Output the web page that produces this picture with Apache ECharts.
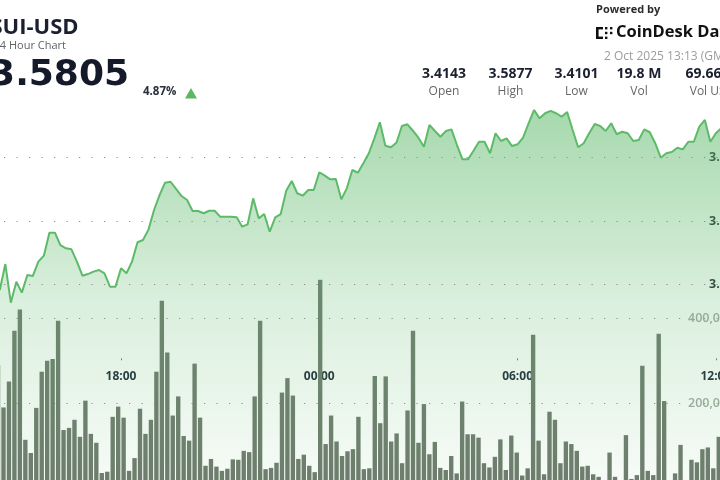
<!DOCTYPE html>
<html><head><meta charset="utf-8">
<script src="https://cdn.jsdelivr.net/npm/echarts@6/dist/echarts.min.js"></script>
<style>html,body{margin:0;padding:0;background:#fff}#c{width:720px;height:480px}</style>
</head><body><div id="c"></div>
<script>
// ---- data ----
const priceValues = [
 3.4455,3.4660,3.4355,3.4520,3.4434,3.4573,3.4566,3.4679,3.4726,3.4908,3.4908,3.4810,3.4784,3.4776,3.4679,3.4568,3.4581,3.4600,3.4613,3.4587,3.4481,3.4481,
 3.4626,3.4587,3.4679,3.4832,3.4850,3.4934,3.5087,3.5205,3.5303,3.5310,3.5253,3.5197,3.5166,3.5079,3.5079,3.5061,3.5081,3.5081,3.5034,3.5034,3.5034,3.5029,
 3.4955,3.4974,3.5179,3.5021,3.5055,3.4915,3.5029,3.5055,3.5239,3.5316,3.5219,3.5200,3.5245,3.5245,3.5385,3.5358,3.5329,3.5332,3.5171,3.5258,3.5403,3.5382,
 3.5456,3.5535,3.5653,3.5780,3.5595,3.5582,3.5618,3.5750,3.5764,3.5713,3.5658,3.5587,3.5758,3.5711,3.5666,3.5711,3.5724,3.5600,3.5487,3.5487,3.5555,3.5626,
 3.5626,3.5535,3.5693,3.5632,3.5653,3.5592,3.5606,3.5658,3.5772,3.5877,3.5811,3.5851,3.5870,3.5851,3.5824,3.5861,3.5719,3.5582,3.5614,3.5693,3.5766,3.5750,
 3.5711,3.5772,3.5685,3.5705,3.5693,3.5632,3.5640,3.5724,3.5701,3.5614,3.5500,3.5535,3.5545,3.5579,3.5566,3.5626,3.5626,3.5745,3.5798,3.5626,3.5693,3.5735
];
const volumeValues = [
 290000,190000,251000,370000,420000,114000,83000,189000,274000,300000,304000,394000,137000,142000,161000,121000,206000,128000,107000,36000,39000,168000,192000,
 166000,41000,71000,187000,128000,161000,274000,441000,319000,171000,216000,123000,112000,293000,166000,53000,69000,51000,41000,46000,68000,67000,
 88000,85000,216000,394000,45000,48000,60000,225000,259000,218000,69000,79000,53000,38000,490000,104000,171000,110000,76000,87000,92000,168000,45000,47000,
 264000,153000,263000,110000,129000,59000,183000,370000,107000,198000,80000,109000,48000,43000,76000,35000,204000,127000,127000,119000,
 59000,49000,74000,115000,43000,124000,84000,30000,47000,361000,112000,33000,180000,161000,59000,110000,104000,88000,51000,53000,33000,27000,17000,84000,
 27000,19000,125000,22000,31000,288000,41000,31000,363000,205000,15000,35000,102000,15000,67000,61000,92000,96000,47000,121000
];
const priceGridValues = [3.45, 3.50, 3.55];
const timeTickLabels = ['18:00', '00:00', '06:00', '12:00'];
const statValues = ['3.4143', '3.5877', '3.4101', '19.8 M', '69.66 M'];
const statLabels = ['Open', 'High', 'Low', 'Vol', 'Vol USD'];
const lastPrice = '3.5805';
const changePct = '4.87%';

function hhmm(m) { m = ((m % 1440) + 1440) % 1440; return String(Math.floor(m / 60)).padStart(2, '0') + ':' + String(m % 60).padStart(2, '0'); }
const priceTimes = priceValues.map((_, i) => hhmm(14 * 60 + 20 + i * 10));
const volumeTimes = volumeValues.map((_, i) => hhmm(14 * 60 + 10 + i * 10));

// ---- layout ----
const P_STEP = 5.508, V_STEP = 5.46;
const priceLeft = -0.18, priceWidth = (priceValues.length - 1) * P_STEP;
const volLeft = -4.69, volWidth = volumeValues.length * V_STEP;
const dotted = { type: [1.2, 11.3], color: '#8e8e8e', width: 1.2 };
const navy = '#1b2030';
const isTime = (i, v) => timeTickLabels.includes(v);

const chart = echarts.init(document.getElementById('c'), null, { renderer: 'canvas' });

const graphic = [
  { type: 'text', x: -9.5, y: 28, style: { text: 'SUI-USD', font: 'bold 22px "Open Sans"', fill: navy, textVerticalAlign: 'middle' } },
  { type: 'text', x: -6.5, y: 46, style: { text: '24 Hour Chart', font: '11px "Open Sans"', fill: '#5f6368', textVerticalAlign: 'middle' } },
  { type: 'text', x: 129, y: 75.5, style: { text: lastPrice, font: 'bold 36px "DejaVu Sans"', fill: '#141a2a', textAlign: 'right', textVerticalAlign: 'middle' } },
  { type: 'text', x: 143, y: 92, style: { text: changePct, font: 'bold 11.5px "Open Sans"', fill: '#2a2f3d', textVerticalAlign: 'middle' } },
  { type: 'polygon', shape: { points: [[185, 98.5], [197, 98.5], [191, 88]] }, style: { fill: '#5cb860' } },
  { type: 'text', x: 596, y: 10, style: { text: 'Powered by', font: 'bold 11px "Open Sans"', fill: '#2b2b2b', textVerticalAlign: 'middle' } },
  { type: 'text', x: 616, y: 32.5, style: { text: 'CoinDesk Data', font: 'bold 16.5px "Open Sans"', fill: '#111', textVerticalAlign: 'middle' } },
  { type: 'text', x: 604, y: 56.5, style: { text: '2 Oct 2025 13:13 (GMT)', font: '12px "Open Sans"', fill: '#9c9c9c', textVerticalAlign: 'middle' } },
  // logo mark
  { type: 'rect', shape: { x: 596, y: 27, width: 2.6, height: 12 }, style: { fill: '#111' } },
  { type: 'rect', shape: { x: 596, y: 27, width: 7, height: 2.4 }, style: { fill: '#111' } },
  { type: 'rect', shape: { x: 596, y: 36.6, width: 7, height: 2.4 }, style: { fill: '#111' } },
  { type: 'rect', shape: { x: 605, y: 27, width: 2.4, height: 2.4 }, style: { fill: '#111' } },
  { type: 'rect', shape: { x: 610, y: 27, width: 2.4, height: 2.4 }, style: { fill: '#111' } },
  { type: 'rect', shape: { x: 605, y: 31.8, width: 2.4, height: 2.4 }, style: { fill: '#111' } },
  { type: 'rect', shape: { x: 610, y: 31.8, width: 2.4, height: 2.4 }, style: { fill: '#111' } },
  { type: 'rect', shape: { x: 605, y: 36.6, width: 2.4, height: 2.4 }, style: { fill: '#111' } }
];
const statX = [444, 510.5, 576.5, 639, 712];
statValues.forEach((v, i) => {
  graphic.push({ type: 'text', x: statX[i], y: 74.5, style: { text: v, font: 'bold 14px "Open Sans"', fill: navy, textAlign: 'center', textVerticalAlign: 'middle' } });
  graphic.push({ type: 'text', x: statX[i], y: 91.5, style: { text: statLabels[i], font: '12px "Open Sans"', fill: '#666', textAlign: 'center', textVerticalAlign: 'middle' } });
});

chart.setOption({
  animation: false,
  backgroundColor: '#fff',
  grid: [
    { left: priceLeft, width: priceWidth, top: 94.4, height: 443.1, outerBoundsMode: 'none', containLabel: false },
    { left: volLeft, width: volWidth, top: 233, height: 255.3, outerBoundsMode: 'none', containLabel: false },
    { left: priceLeft, width: priceWidth, top: 300, height: 58.3, outerBoundsMode: 'none', containLabel: false }
  ],
  xAxis: [
    { type: 'category', gridIndex: 0, data: priceTimes, boundaryGap: false, show: false },
    { type: 'category', gridIndex: 1, data: volumeTimes, boundaryGap: true, show: false },
    { type: 'category', gridIndex: 2, data: priceTimes, boundaryGap: false,
      axisLine: { show: false },
      axisTick: { show: true, interval: isTime, length: 2, lineStyle: { color: '#777', width: 1 } },
      axisLabel: { interval: isTime, margin: 12, fontFamily: 'Open Sans', fontWeight: 'bold', fontSize: 12, color: '#1e2638' },
      splitLine: { show: false } }
  ],
  yAxis: [
    { type: 'value', gridIndex: 0, position: 'right', min: 3.25, max: 3.60, interval: 0.05,
      axisLine: { show: false }, axisTick: { show: false }, splitLine: { show: false },
      axisLabel: { inside: true, align: 'left', margin: 12.3, fontFamily: 'Open Sans', fontWeight: 'bold', fontSize: 12.5, color: '#1e2638',
        formatter: v => (v > 3.449 && v < 3.551) ? v.toFixed(4) : '' } },
    { type: 'value', gridIndex: 1, position: 'right', min: 0, max: 600000, interval: 200000,
      axisLine: { show: false }, axisTick: { show: false },
      splitLine: { show: true, showMinLine: false, showMaxLine: false, lineStyle: Object.assign({ dashOffset: 3.8 }, dotted) },
      axisLabel: { inside: true, align: 'left', margin: 33.5, showMinLabel: false, showMaxLabel: false, fontFamily: 'Open Sans', fontWeight: 600, fontSize: 12.5, color: '#a2aaa2',
        formatter: v => (v > 0 && v < 600000) ? v.toLocaleString('en-US') : '' } },
    { type: 'value', gridIndex: 2, show: false }
  ],
  series: [
    { type: 'line', xAxisIndex: 0, yAxisIndex: 0, data: priceValues, showSymbol: false, symbol: 'none',
      lineStyle: { color: '#5dba69', width: 2 },
      areaStyle: { color: new echarts.graphic.LinearGradient(0, 0, 0, 1, [
        { offset: 0, color: 'rgba(93,185,106,0.78)' },
        { offset: 0.45, color: 'rgba(93,185,106,0.32)' },
        { offset: 0.85, color: 'rgba(93,185,106,0.09)' },
        { offset: 1, color: 'rgba(93,185,106,0.03)' }]) },
      markLine: { silent: true, symbol: 'none', label: { show: false },
        lineStyle: Object.assign({ dashOffset: 8.3 }, dotted),
        data: priceGridValues.map(v => ({ yAxis: v })) } },
    { type: 'bar', xAxisIndex: 1, yAxisIndex: 1, data: volumeValues, barWidth: '80%',
      itemStyle: { color: '#6f7a6e' } }
  ],
  graphic: graphic
});
</script>
</body></html>
